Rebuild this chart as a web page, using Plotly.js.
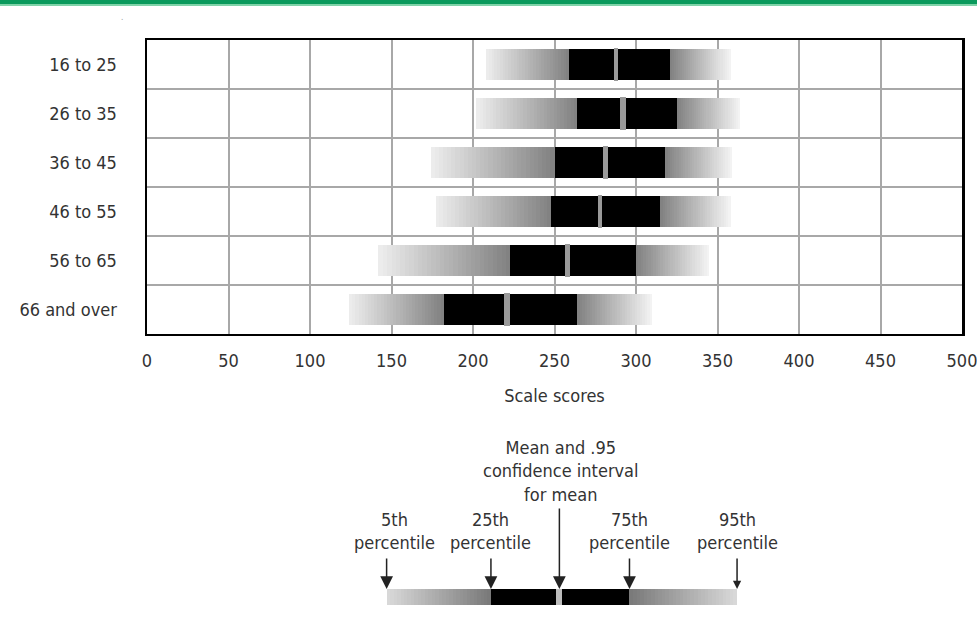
<!DOCTYPE html>
<html>
<head>
<meta charset="utf-8">
<script src="https://cdn.plot.ly/plotly-3.0.1.min.js"></script>
<style>html,body{margin:0;padding:0;background:#fff;}#chart{width:977px;height:635px;}</style>
</head>
<body>
<div id="chart"></div>
<script>
// ---- data ----
const ageGroups = ['16 to 25', '26 to 35', '36 to 45', '46 to 55', '56 to 65', '66 and over'];
const p5  = [208, 202, 174, 177, 142, 124];
const p25 = [259, 264, 250, 248, 223, 182];
const p75 = [321, 325, 318, 315, 300, 264];
const p95 = [358, 364, 359, 358, 345, 310];
const ciLow  = [286.2, 290.3, 279.5, 276.6, 256.2, 219.2];
const ciHigh = [288.9, 293.8, 282.8, 279.3, 259.7, 222.9];
const xTickVals = [0, 50, 100, 150, 200, 250, 300, 350, 400, 450, 500];
const xTitle = 'Scale scores';

// key (legend) bar
const keyStops = [147, 211, 296, 362];        // 5th, 25th, 75th, 95th
const keyCI = [251.2, 254.9];                  // mean CI in key
const keyMean = 253;
const keyLabels = ['5th<br>percentile', '25th<br>percentile', '75th<br>percentile', '95th<br>percentile'];
const keyMeanLabel = 'Mean and .95<br>confidence interval<br>for mean';

// ---- helpers (visual gradient built from the data ranges) ----
const FONT = '"Liberation Sans Narrow", "Arial Narrow", "DejaVu Sans Condensed", "Roboto Condensed", sans-serif';
const FS = 18;
function lerpGray(a, b, t) { const v = Math.round(a + (b - a) * t); return `rgb(${v},${v},${v})`; }
function gradientTrace(starts, ends, ys, fromGray, toGray, width, xa, ya) {
  const N = 30, base = [], xs = [], yy = [], cols = [];
  for (let i = 0; i < starts.length; i++) {
    const step = (ends[i] - starts[i]) / N;
    for (let k = 0; k < N; k++) {
      base.push(starts[i] + k * step);
      xs.push(step * (k === N - 1 ? 1 : 1.15));
      yy.push(ys[i]);
      cols.push(lerpGray(fromGray, toGray, (k + 0.5) / N));
    }
  }
  return { type: 'bar', orientation: 'h', base: base, x: xs, y: yy, width: width,
           marker: { color: cols, line: { width: 0 } }, xaxis: xa, yaxis: ya,
           hoverinfo: 'skip', showlegend: false };
}
const rows = ageGroups.map((_, i) => i);
const BW = 0.63;
const traces = [
  gradientTrace(p5, p25, rows, 238, 128, BW, 'x', 'y'),
  gradientTrace(p75, p95, rows, 128, 245, BW, 'x', 'y'),
  { type: 'bar', orientation: 'h', base: p25, x: p75.map((v, i) => v - p25[i]), y: rows, width: BW,
    marker: { color: '#000', line: { width: 0 } }, hoverinfo: 'skip', showlegend: false },
  { type: 'bar', orientation: 'h', base: ciLow, x: ciHigh.map((v, i) => v - ciLow[i]), y: rows, width: 0.67,
    marker: { color: '#9a9a9a', line: { width: 0 } }, hoverinfo: 'skip', showlegend: false },
  // key bar
  gradientTrace([keyStops[0]], [keyStops[1]], [0], 218, 120, 1, 'x2', 'y2'),
  gradientTrace([keyStops[2]], [keyStops[3]], [0], 120, 218, 1, 'x2', 'y2'),
  { type: 'bar', orientation: 'h', base: [keyStops[1]], x: [keyStops[2] - keyStops[1]], y: [0], width: 1,
    marker: { color: '#000', line: { width: 0 } }, xaxis: 'x2', yaxis: 'y2', hoverinfo: 'skip', showlegend: false },
  { type: 'bar', orientation: 'h', base: [keyCI[0]], x: [keyCI[1] - keyCI[0]], y: [0], width: 1,
    marker: { color: '#bdbdbd', line: { width: 0 } }, xaxis: 'x2', yaxis: 'y2', hoverinfo: 'skip', showlegend: false }
];

// ---- annotations for key ----
const ann = [];
keyStops.forEach((x, i) => {
  ann.push({ xref: 'x2', yref: 'y2', x: x, y: 0.5, ax: 0, ay: -32, text: '', showarrow: true,
             arrowhead: 2, arrowsize: i === 3 ? 1.1 : 1.7, arrowwidth: 1.5, arrowcolor: '#222', standoff: 0 });
  ann.push({ xref: 'x2', yref: 'y2', x: x, y: 0.5, yanchor: 'bottom', yshift: 34, xshift: i === 0 ? 8 : 0,
             text: keyLabels[i], showarrow: false, font: { family: FONT, size: FS, color: '#333' } });
});
ann.push({ xref: 'x2', yref: 'y2', x: keyMean, y: 0.5, ax: 0, ay: -82, text: '', showarrow: true,
           arrowhead: 2, arrowsize: 1.7, arrowwidth: 1.5, arrowcolor: '#222', standoff: 0 });
ann.push({ xref: 'x2', yref: 'y2', x: keyMean, y: 0.5, yanchor: 'bottom', yshift: 82, xshift: 2,
           text: keyMeanLabel, showarrow: false, font: { family: FONT, size: FS, color: '#333' } });
ann.push({ xref: 'paper', yref: 'paper', x: -0.034, y: 1.05, text: '.', showarrow: false,
           font: { family: FONT, size: 8, color: '#999' } });

const layout = {
  width: 977, height: 635,
  margin: { l: 147, r: 15, t: 40, b: 20 },
  paper_bgcolor: '#fff', plot_bgcolor: '#fff',
  font: { family: FONT, size: FS, color: '#333' },
  barmode: 'overlay', bargap: 0,
  showlegend: false,
  xaxis: {
    range: [0, 500], tickvals: xTickVals, ticktext: xTickVals.map(String),
    showgrid: true, gridcolor: '#a8a8a8', gridwidth: 2, zeroline: false,
    showline: true, mirror: true, linecolor: '#000', linewidth: 2.5,
    ticks: '', ticklabelstandoff: 9, ticklabeloverflow: 'allow',
    title: { text: xTitle, standoff: 20, font: { family: FONT, size: FS, color: '#333' } },
    tickfont: { family: FONT, size: FS, color: '#333' }, fixedrange: true
  },
  yaxis: {
    domain: [0.4887, 1], range: [5.5, -0.5],
    tickvals: rows, ticktext: ageGroups, showgrid: false, zeroline: false,
    minor: { tickvals: [0.5, 1.5, 2.5, 3.5, 4.5], showgrid: true, gridcolor: '#a8a8a8', gridwidth: 2, ticks: '' },
    showline: true, mirror: true, linecolor: '#000', linewidth: 2.5,
    ticks: '', ticklabelstandoff: 24,
    tickfont: { family: FONT, size: FS, color: '#333' }, fixedrange: true
  },
  xaxis2: { anchor: 'y2', domain: [0, 1], range: [0, 500], visible: false, fixedrange: true },
  yaxis2: { anchor: 'x2', domain: [0.01739, 0.04522], range: [-0.5, 0.5], visible: false, fixedrange: true },
  shapes: [
    { type: 'rect', xref: 'paper', yref: 'paper', x0: -0.19, x1: 1.02, y0: 1.0626, y1: 1.072,
      fillcolor: '#0a9a5c', line: { width: 0 }, layer: 'above' },
    { type: 'rect', xref: 'paper', yref: 'paper', x0: -0.19, x1: 1.02, y0: 1.0591, y1: 1.0626,
      fillcolor: '#7fd3a8', line: { width: 0 }, layer: 'above' }
  ],
  annotations: ann
};

Plotly.newPlot('chart', traces, layout, { displayModeBar: false, staticPlot: true });
</script>
</body>
</html>
